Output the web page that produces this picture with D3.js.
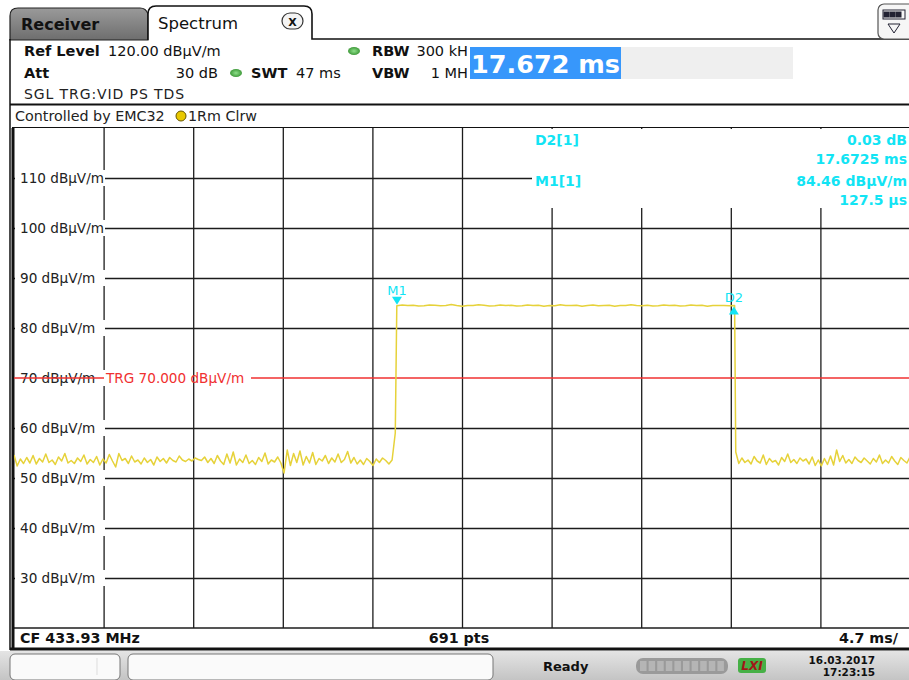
<!DOCTYPE html>
<html><head><meta charset="utf-8">
<script src="https://cdn.jsdelivr.net/npm/d3@7"></script>
<style>
body{margin:0;background:#fff;}
svg{display:block;font-family:"DejaVu Sans",Verdana,sans-serif;}
</style></head>
<body><svg id="c" width="909" height="680"></svg>
<script>
// ---------- data ----------
const sweepMs = 47;               // 10 divisions x 4.7 ms
const divMs = 4.7;
const refLevel = 120, bottomLevel = 20;
const levelTicks = [30, 40, 50, 60, 70, 80, 90, 100, 110];
const timeTicks = [4.7, 9.4, 14.1, 18.8, 23.5, 28.2, 32.9, 37.6, 42.3];
const triggerLevel = 70;

// trace segments (start ms, end ms) with values
const segStartMs = [0, 20.08, 37.86];
const segEndMs   = [20.0, 37.80, 47.0];
const noiseBefore = [54.6,52.4,53.8,52.9,54.1,53.0,54.5,52.8,53.9,53.2,54.8,53.1,53.6,52.7,54.2,53.4,54.9,53.0,53.5,52.9,54.0,53.3,54.6,52.8,53.7,53.1,54.3,52.6,53.8,53.0,54.7,53.4,52.2,54.9,53.5,53.9,52.9,54.4,53.2,53.6,52.8,54.0,53.1,53.7,52.6,54.2,53.3,53.9,53.0,54.1,53.5,53.2,54.4,53.6,53.3,53.8,53.4,54.0,53.7,53.5,54.2,53.1,53.9,52.9,54.5,53.4,52.7,54.8,53.0,55.2,52.6,53.8,53.1,54.6,52.9,53.5,52.7,54.1,53.3,55.0,52.8,53.6,53.2,54.2,53.0,51.0,55.6,52.5,54.9,53.1,55.4,52.6,54.3,53.0,55.1,52.7,53.9,53.4,54.5,52.9,54.0,53.2,54.8,53.1,53.7,55.3,53.0,54.1,52.8,53.6,52.7,53.9,53.3,52.5,53.8,53.1,54.0,53.5,52.8,53.6,59.0];
const pulse = [84.46,84.62,84.48,84.55,84.40,84.44,84.59,84.53,84.47,84.51,84.68,84.49,84.35,84.52,84.50,84.67,84.54,84.39,84.43,84.61,84.48,84.56,84.40,84.46,84.62,84.49,84.55,84.37,84.50,84.44,84.63,84.48,84.51,84.57,84.36,84.50,84.62,84.45,84.49,84.54,84.37,84.51,84.48,84.66,84.50,84.46,84.53,84.39,84.44,84.62,84.48,84.55,84.40,84.47,84.61,84.49,84.54,84.36,84.50,84.52,84.48,84.45,84.49];
const noiseAfter = [55.2,52.9,54.0,53.1,53.6,52.8,54.3,53.4,53.0,54.6,52.7,53.9,53.2,53.5,52.6,54.1,53.3,54.8,53.1,53.7,52.9,54.0,53.4,53.8,52.8,54.2,52.5,53.6,52.4,53.9,52.7,54.4,52.6,55.6,53.3,54.5,53.0,53.7,52.9,54.2,53.5,53.1,54.0,53.4,52.8,53.9,53.2,54.6,52.9,53.6,53.0,54.3,53.4,52.7,54.1,53.5,53.0,54.2];

const markerNames = ["M1", "D2"];
const markerMs = [20.09, 37.76];
const markerDb = [84.46, 84.49];
const markerReadoutLabels = ["D2[1]", "", "M1[1]", ""];
const markerReadoutValues = ["0.03 dB", "17.6725 ms", "84.46 dBµV/m", "127.5 µs"];

// ---------- layout ----------
const svg = d3.select("#c");
const X0 = 14, X1 = 910, Y0 = 128, Y1 = 628;
const x = d3.scaleLinear().domain([0, sweepMs]).range([X0, X1]);
const y = d3.scaleLinear().domain([bottomLevel, refLevel]).range([Y1, Y0]);
const cyan = "#12e4f4";

// ----- tab header -----
const defs = svg.append("defs");
const g1 = defs.append("linearGradient").attr("id","tabg").attr("x1",0).attr("x2",0).attr("y1",0).attr("y2",1);
g1.append("stop").attr("offset","0").attr("stop-color","#9a9a9a");
g1.append("stop").attr("offset","1").attr("stop-color","#6e6e6e");
const g2 = defs.append("linearGradient").attr("id","stat").attr("x1",0).attr("x2",0).attr("y1",0).attr("y2",1);
g2.append("stop").attr("offset","0").attr("stop-color","#e4e4e4");
g2.append("stop").attr("offset","1").attr("stop-color","#c4c4c4");
const g3 = defs.append("radialGradient").attr("id","grn");
g3.append("stop").attr("offset","0").attr("stop-color","#8ee08a");
g3.append("stop").attr("offset","1").attr("stop-color","#3f9a3a");

svg.append("path").attr("d","M10,40 L10,16 Q10,8 18,8 L140,8 Q146,8 148,14 L148,40 Z")
  .attr("fill","url(#tabg)").attr("stroke","#222").attr("stroke-width",1.2);
svg.append("text").attr("x",21).attr("y",30).attr("font-size",16).attr("font-weight","bold").attr("fill","#111").text("Receiver");
svg.append("path").attr("d","M148,40 L148,14 Q148,6 156,6 L304,6 Q312,6 312,14 L312,39 L909,39")
  .attr("fill","#fff").attr("stroke","#111").attr("stroke-width",1.6);
svg.append("text").attr("x",158).attr("y",29).attr("font-size",16.5).attr("fill","#111").text("Spectrum");
svg.append("rect").attr("x",282).attr("y",13).attr("width",21).attr("height",16).attr("rx",8)
  .attr("fill","#f4f4f4").attr("stroke","#333").attr("stroke-width",1.2);
svg.append("text").attr("x",292.5).attr("y",25.5).attr("text-anchor","middle").attr("font-size",11).attr("font-weight","bold").attr("fill","#111").text("X");
svg.append("rect").attr("x",878).attr("y",4).attr("width",40).attr("height",35).attr("rx",6)
  .attr("fill","#f6f6f6").attr("stroke","#555").attr("stroke-width",1.2);
[0,1,2].forEach(i=>svg.append("rect").attr("x",884+i*6).attr("y",12).attr("width",5).attr("height",5).attr("fill","#223").attr("stroke","#223"));
svg.append("rect").attr("x",883).attr("y",10).attr("width",22).attr("height",9).attr("fill","none").attr("stroke","#223");
svg.append("path").attr("d","M888,24 L900,24 L894,33 Z").attr("fill","none").attr("stroke","#223");

// left panel border
svg.append("line").attr("x1",10).attr("x2",10).attr("y1",39).attr("y2",650).attr("stroke","#111").attr("stroke-width",1.5);

// ----- header info -----
function txt(xp, yp, s, opt={}) {
  const t = svg.append("text").attr("x",xp).attr("y",yp).attr("font-size",opt.size||14)
    .attr("fill",opt.fill||"#111").text(s);
  if (opt.bold) t.attr("font-weight","bold");
  if (opt.anchor) t.attr("text-anchor",opt.anchor);
  if (opt.ls) t.attr("letter-spacing",opt.ls);
  return t;
}
txt(24,56,"Ref Level",{bold:true,size:14.5});
txt(108,56,"120.00 dBµV/m",{size:14.5});
txt(24,78,"Att",{bold:true,size:14.5});
txt(218,78,"30 dB",{anchor:"end",size:14.5});
svg.append("ellipse").attr("cx",236).attr("cy",73).attr("rx",6).attr("ry",4).attr("fill","url(#grn)");
txt(251,78,"SWT",{bold:true,size:14.5});
txt(296,78,"47 ms",{size:14.5});
svg.append("ellipse").attr("cx",354).attr("cy",51).attr("rx",6).attr("ry",4).attr("fill","url(#grn)");
txt(372,56,"RBW",{bold:true,size:14.5});
txt(468,56,"300 kH",{size:14.5,anchor:"end"});
txt(372,78,"VBW",{bold:true,size:14.5});
txt(468,78,"1 MH",{size:14.5,anchor:"end"});
svg.append("rect").attr("x",620).attr("y",47).attr("width",173).attr("height",32).attr("fill","#efefef");
svg.append("rect").attr("x",470).attr("y",47).attr("width",151).attr("height",32).attr("fill","#3797fb");
txt(471,73,"17.672 ms",{bold:true,size:25.5,fill:"#fff"});
txt(24,99,"SGL TRG:VID PS TDS",{fill:"#222",size:14,ls:0.9});
svg.append("line").attr("x1",10).attr("x2",909).attr("y1",104.5).attr("y2",104.5).attr("stroke","#111").attr("stroke-width",2);
txt(15,121,"Controlled by EMC32",{fill:"#222",size:14.3});
svg.append("circle").attr("cx",181).attr("cy",116).attr("r",5).attr("fill","#e8c800").attr("stroke","#665500").attr("stroke-width",1);
txt(188,121,"1Rm Clrw",{fill:"#222",size:14.3});

// ----- plot area -----
svg.append("rect").attr("x",X0).attr("y",Y0).attr("width",X1-X0).attr("height",Y1-Y0).attr("fill","#fff");
svg.append("line").attr("x1",12).attr("x2",909).attr("y1",Y0-0.5).attr("y2",Y0-0.5).attr("stroke","#111").attr("stroke-width",1.2);

// grid via axes
const vgrid = svg.append("g").attr("transform",`translate(0,${Y1})`)
  .call(d3.axisBottom(x).tickValues(timeTicks).tickSize(-(Y1-Y0)).tickFormat(""));
vgrid.select(".domain").remove();
vgrid.selectAll("line").attr("stroke","#1c1c1c").attr("stroke-width",1.3);
const hgrid = svg.append("g").attr("transform",`translate(${X0},0)`)
  .call(d3.axisLeft(y).tickValues(levelTicks.filter(v=>v!==triggerLevel)).tickSize(-(X1-X0)).tickFormat(""));
hgrid.select(".domain").remove();
hgrid.selectAll("line").attr("stroke","#1c1c1c").attr("stroke-width",1.3);

// bottom line of plot
svg.append("line").attr("x1",X0).attr("x2",909).attr("y1",Y1).attr("y2",Y1).attr("stroke","#1c1c1c").attr("stroke-width",1.3);

// left thick frame
svg.append("line").attr("x1",13).attr("x2",13).attr("y1",Y0).attr("y2",648).attr("stroke","#111").attr("stroke-width",3);

// level labels
levelTicks.forEach(v=>{
  svg.append("rect").attr("x",15).attr("y",y(v)-8).attr("width",90).attr("height",16).attr("fill","#fff");
  txt(20,y(v)+5,v+" dBµV/m",{fill:"#222",size:13.6});
});

// marker readout box
svg.append("rect").attr("x",532).attr("y",Y0+1).attr("width",380).attr("height",79).attr("fill","#fff");
const roY = [145, 164, 186, 205];
markerReadoutLabels.forEach((s,i)=>{ if(s) txt(535,roY[i],s,{fill:cyan,size:14,bold:true}); });
markerReadoutValues.forEach((s,i)=>txt(907,roY[i],s,{fill:cyan,size:14,bold:true,anchor:"end"}));

// trigger line
svg.append("line").attr("x1",X0).attr("x2",104).attr("y1",y(triggerLevel)).attr("y2",y(triggerLevel)).attr("stroke","#f03030").attr("stroke-width",1.3);
svg.append("line").attr("x1",251).attr("x2",909).attr("y1",y(triggerLevel)).attr("y2",y(triggerLevel)).attr("stroke","#f03030").attr("stroke-width",1.3);
txt(106,y(triggerLevel)+5,"TRG  70.000 dBµV/m",{fill:"#f03030",size:13.6});

// trace
const segVals = [noiseBefore, pulse, noiseAfter];
const pts = [];
segVals.forEach((arr,s)=>{
  const t0 = segStartMs[s], t1 = segEndMs[s];
  arr.forEach((v,i)=>pts.push([t0 + (t1-t0)*i/(arr.length-1), v]));
});
svg.append("defs").append("clipPath").attr("id","pc").append("rect")
  .attr("x",X0).attr("y",Y0).attr("width",909-X0).attr("height",Y1-Y0);
svg.append("path").datum(pts).attr("clip-path","url(#pc)")
  .attr("d",d3.line().x(d=>x(d[0])).y(d=>y(d[1])))
  .attr("fill","none").attr("stroke","#e6d23a").attr("stroke-width",1.5).attr("stroke-linejoin","round");

// markers
markerNames.forEach((n,i)=>{
  const mx = x(markerMs[i]), my = y(markerDb[i]);
  if (i===0) {
    svg.append("path").attr("d",`M${mx-5},${my-9} L${mx+5},${my-9} L${mx},${my-1} Z`).attr("fill",cyan);
    txt(mx,my-11,n,{fill:cyan,size:13,anchor:"middle"});
  } else {
    svg.append("path").attr("d",`M${mx-5},${my+9} L${mx+5},${my+9} L${mx},${my+1} Z`).attr("fill",cyan);
    txt(mx,my-4,n,{fill:cyan,size:13,anchor:"middle"});
  }
});

// footer
svg.append("rect").attr("x",15).attr("y",Y1+1).attr("width",894).attr("height",18).attr("fill","#fff");
txt(20,643,"CF 433.93 MHz",{bold:true,size:14.3});
txt(459,643,"691 pts",{bold:true,anchor:"middle",size:14.3});
txt(898,643,"4.7 ms/",{bold:true,anchor:"end",size:14.3});
svg.append("line").attr("x1",10).attr("x2",909).attr("y1",649).attr("y2",649).attr("stroke","#111").attr("stroke-width",3);

// status bar
svg.append("rect").attr("x",0).attr("y",651).attr("width",909).attr("height",29).attr("fill","url(#stat)");
svg.append("rect").attr("x",10).attr("y",654).attr("width",110).attr("height",26).attr("rx",5).attr("fill","#fafafa").attr("stroke","#777");
svg.append("line").attr("x1",97).attr("x2",97).attr("y1",658).attr("y2",675).attr("stroke","#ddd");
svg.append("rect").attr("x",128).attr("y",654).attr("width",365).attr("height",26).attr("rx",5).attr("fill","#fafafa").attr("stroke","#777");
txt(543,671,"Ready",{bold:true,size:13});
svg.append("rect").attr("x",636).attr("y",658).attr("width",92).attr("height",16).attr("rx",7).attr("fill","#9a9a9a");
for (let i=0;i<10;i++) svg.append("rect").attr("x",640+i*8.6).attr("y",661).attr("width",6.5).attr("height",10).attr("fill","#b5b5b5");
svg.append("rect").attr("x",738).attr("y",658).attr("width",28).attr("height",15).attr("rx",3).attr("fill","#46b046");
txt(752,670,"LXI",{bold:true,size:12,fill:"#a01818",anchor:"middle"}).attr("font-style","italic");
txt(875,664,"16.03.2017",{bold:true,size:10.5,anchor:"end"});
txt(875,676,"17:23:15",{bold:true,size:10.5,anchor:"end"});
</script></body></html>
